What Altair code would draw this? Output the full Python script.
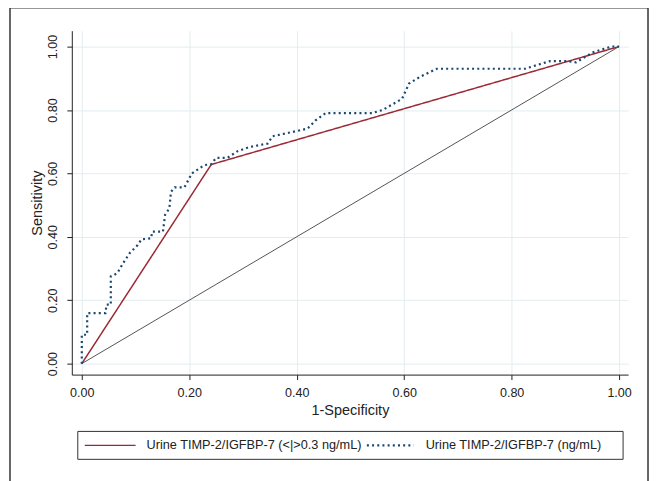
import altair as alt
import pandas as pd

# ---- data ----
fpr_cut = [0.0, 0.241, 1.0]
tpr_cut = [0.0, 0.628, 1.0]

fpr_cont = [0.0, 0.0, 0.010, 0.010, 0.044, 0.046, 0.054, 0.054, 0.066, 0.077,
            0.089, 0.104, 0.111, 0.129, 0.131, 0.151, 0.155, 0.163, 0.166, 0.173,
            0.191, 0.205, 0.228, 0.241, 0.250, 0.271, 0.290, 0.312, 0.346, 0.355,
            0.385, 0.420, 0.435, 0.454, 0.540, 0.560, 0.596, 0.609, 0.630, 0.661,
            0.825, 0.871, 0.905, 0.920, 0.952, 0.986, 1.0]
tpr_cont = [0.0, 0.091, 0.091, 0.159, 0.159, 0.186, 0.186, 0.275, 0.285, 0.317,
            0.348, 0.374, 0.392, 0.395, 0.416, 0.416, 0.469, 0.490, 0.542, 0.556,
            0.556, 0.600, 0.626, 0.629, 0.649, 0.649, 0.670, 0.683, 0.694, 0.717,
            0.728, 0.741, 0.767, 0.790, 0.790, 0.800, 0.835, 0.883, 0.905, 0.930,
            0.930, 0.954, 0.954, 0.950, 0.982, 1.0, 1.0]

ref_x = [0.0, 1.0]
ref_y = [0.0, 1.0]

ticks = [0.0, 0.2, 0.4, 0.6, 0.8, 1.0]
series_names = ["Urine TIMP-2/IGFBP-7 (<|>0.3 ng/mL)", "Urine TIMP-2/IGFBP-7 (ng/mL)"]
series_colors = ["#9b2a35", "#1a476f"]

FONT = "Liberation Sans"

# ---- tables ----
rows = []
for i, (a, b) in enumerate(zip(fpr_cut, tpr_cut)):
    rows.append({"series": series_names[0], "fpr": a, "tpr": b, "i": i})
for i, (a, b) in enumerate(zip(fpr_cont, tpr_cont)):
    rows.append({"series": series_names[1], "fpr": a, "tpr": b, "i": i})
roc = pd.DataFrame(rows)
ref = pd.DataFrame({"fpr": ref_x, "tpr": ref_y})

xscale = alt.Scale(domain=[-0.0186, 1.0167], nice=False, zero=False)
yscale = alt.Scale(domain=[-0.0346, 1.05], nice=False, zero=False)

xaxis = alt.Axis(values=ticks, format=".2f", title="1-Specificity", grid=True,
                 tickSize=5, labelPadding=7, titlePadding=4)
yaxis = alt.Axis(values=ticks, format=".2f", title="Sensitivity", grid=True,
                 tickSize=5, labelAngle=270, labelAlign="center",
                 labelBaseline="bottom", labelPadding=7, titlePadding=2)

one = pd.DataFrame({"k": [0]})

# outer figure frame (left, top, right edges; bottom lies below the picture)
frame_style = dict(color="#333333", strokeWidth=1.5, clip=False)
frame_l = alt.Chart(one).mark_rule(**frame_style).encode(
    x=alt.value(-62), y=alt.value(-23), y2=alt.value(470))
frame_t = alt.Chart(one).mark_rule(**frame_style).encode(
    x=alt.value(-62), x2=alt.value(578), y=alt.value(-23))
frame_r = alt.Chart(one).mark_rule(**frame_style).encode(
    x=alt.value(578), y=alt.value(-23), y2=alt.value(470))

diag = alt.Chart(ref).mark_line(color="#555555", strokeWidth=1).encode(
    x=alt.X("fpr:Q", scale=xscale, axis=xaxis),
    y=alt.Y("tpr:Q", scale=yscale, axis=yaxis),
)

lines = alt.Chart(roc).mark_line(strokeCap="butt").encode(
    x=alt.X("fpr:Q", scale=xscale, axis=xaxis),
    y=alt.Y("tpr:Q", scale=yscale, axis=yaxis),
    color=alt.Color("series:N", scale=alt.Scale(domain=series_names, range=series_colors),
                    legend=None),
    strokeDash=alt.StrokeDash("series:N",
                              scale=alt.Scale(domain=series_names, range=[[1, 0], [2, 3.2]]),
                              legend=None),
    strokeWidth=alt.StrokeWidth("series:N",
                                scale=alt.Scale(domain=series_names, range=[1.5, 2.2]),
                                legend=None),
    order="i:Q",
)

# ---- manual legend (Stata-style box below the plot) ----
leg_box = alt.Chart(one).mark_rect(filled=False, stroke="#333333", strokeWidth=1,
                                   clip=False).encode(
    x=alt.value(6), x2=alt.value(553), y=alt.value(402), y2=alt.value(430))
leg_l1 = alt.Chart(one).mark_rule(color=series_colors[0], strokeWidth=1.5,
                                  clip=False).encode(
    x=alt.value(13), x2=alt.value(64), y=alt.value(416))
leg_l2 = alt.Chart(one).mark_rule(color=series_colors[1], strokeWidth=2.2,
                                  strokeDash=[2, 3.2], clip=False).encode(
    x=alt.value(296), x2=alt.value(343), y=alt.value(416))
leg_t1 = alt.Chart(pd.DataFrame({"label": [series_names[0]]})).mark_text(
    align="left", baseline="middle", font=FONT, fontSize=12.75, color="#222222",
    clip=False).encode(x=alt.value(75), y=alt.value(416), text="label:N")
leg_t2 = alt.Chart(pd.DataFrame({"label": [series_names[1]]})).mark_text(
    align="left", baseline="middle", font=FONT, fontSize=12.75, color="#222222",
    clip=False).encode(x=alt.value(355), y=alt.value(416), text="label:N")

chart = alt.layer(frame_l, frame_t, frame_r, diag, lines,
                  leg_box, leg_l1, leg_l2, leg_t1, leg_t2).properties(
    width=558, height=345,
    autosize=alt.AutoSizeParams(type="none"),
    padding={"left": 64, "top": 22, "right": 21, "bottom": 108},
    background="white",
).configure_view(stroke=None).configure_axis(
    domainColor="#222222", tickColor="#222222", gridColor="#e3edf0", gridWidth=1,
    labelFont=FONT, labelFontSize=12.6, labelColor="#222222",
    titleFont=FONT, titleFontSize=14.5, titleFontWeight="normal", titleColor="#222222",
)

chart.save("out.html", embed_options={"renderer": "svg", "actions": False})
